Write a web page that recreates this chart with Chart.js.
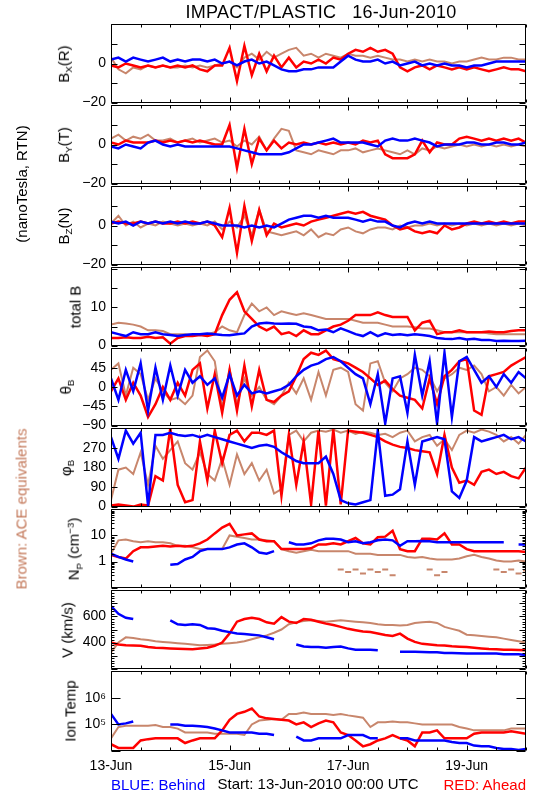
<!DOCTYPE html>
<html><head><meta charset="utf-8">
<script src="https://cdn.jsdelivr.net/npm/chart.js@4.4.1/dist/chart.umd.min.js"></script>
<style>
html,body{margin:0;padding:0;background:#fff}
body{width:550px;height:800px;position:relative;overflow:hidden;font-family:"Liberation Sans",Arial,sans-serif;color:#000}
canvas{position:absolute;left:0}
.t{position:absolute;white-space:nowrap;line-height:1;transform:translate(-50%,-50%)}
.r{transform:translate(-50%,-50%) rotate(-90deg)}
sub{font-size:65%;vertical-align:-0.35em}
sup{font-size:65%;vertical-align:0.55em}
</style></head><body>
<script>
// ---------- time grid (hours since 13-Jun-2010 00:00 UTC) ----------
const hours = [0,3,6,9,12,15,18,21,24,27,30,33,36,39,42,45,48,51,54,57,60,63,66,69,72,75,78,81,84,87,90,93,96,99,102,105,108,111,114,117,120,123,126,129,132,135,138,141,144,147,150,153,156,159,162,165,168];
const dateTicks = [0,48,96,144];
const dateLabels = ['13-Jun','15-Jun','17-Jun','19-Jun'];

// ---------- Bx(R) ----------
const bxBehind = [2,3,1,3,2,1,2,3,1,2, 1,2,2,1,2,0,1,-1,1,2, 0,1,-1,-3,-4,-4,-3,-3,-2,-2, -2,1,4,2,1,1,2,0,1,-1, 0,1,-1,0,-1,0,-1,-1,-2,-1, -1,0,1,1,1,1,1];
const bxAhead  = [-1,-2,0,-1,-2,-1,-2,-1,-2,-1, -2,-1,-3,-4,-1,-1,8,-9,9,-6, 5,-4,4,-2,3,-2,1,0,2,0, 3,2,5,7,6,8,6,7,5,-2, -4,-2,-1,-3,-1,-2,-3,-2,-3,-2, -3,-4,-3,-2,-3,-3,-4];
const bxAce    = [3,-3,-5,-2,-3,-1,-2,-1,-2,-2, -1,-2,-1,-2,-1,0,1,-2,3,5, 2,6,3,5,7,8,4,5,3,5, 4,3,5,4,4,3,4,3,2,2, 1,2,1,2,1,1,0,1,1,2, 3,2,2,3,3,2,2];
// ---------- By(T) ----------
const byBehind = [-1,-2,0,-1,-2,1,2,0,-1,0, -1,-1,-1,-1,-1,-1,-1,-2,-3,-4, -5,-5,-5,-5,-4,-2,0,0,1,2, 3,1,1,1,1,0,-1,2,3,2, 2,3,2,1,-1,0,0,0,1,1, 0,0,1,1,0,0,1];
const byAhead  = [1,0,2,1,1,1,2,1,2,1, 2,1,2,1,0,0,10,-12,8,-10, 3,-3,2,-2,1,0,1,0,1,0, 1,0,1,0,2,1,2,-5,-7,-7, -7,-5,2,-4,1,0,0,3,4,3, 2,3,2,3,2,3,1];
const byAce    = [3,5,2,4,3,5,2,2,3,1, 2,3,1,2,3,1,2,-1,2,0, 4,-3,3,8,7,-3,-4,-5,-3,-4, -5,-3,-3,-2,-4,-3,-2,-3,-4,-5, -3,-5,-2,-3,-1,-2,-1,0,-1,0, -1,0,-1,0,-1,0,-1];
// ---------- Bz(N) ----------
const bzBehind = [2,1,2,0,2,1,2,1,2,1, 2,1,1,2,1,0,0,0,-1,0, -1,0,-1,1,3,4,5,5,4,5, 4,4,4,3,2,3,2,2,0,-1, 1,2,1,2,1,1,1,1,1,1, 1,1,1,1,1,1,1];
const bzAhead  = [1,2,1,1,2,1,2,1,1,2, 1,2,1,2,0,-6,9,-14,10,-8, 8,-5,1,-1,0,1,0,2,3,4, 5,6,7,6,7,5,4,3,0,-2, -1,-3,-4,-3,-4,0,-2,-1,1,2, 1,2,1,2,1,2,2];
const bzAce    = [1,5,0,2,-1,1,0,2,1,0, 1,0,1,0,2,-2,2,-1,5,-5, 8,-3,-4,-5,-4,-3,-5,-2,-6,-4, -5,-2,-1,-3,-4,-2,-1,-1,-2,0, -1,0,0,1,0,1,0,1,0,1, 0,1,0,1,0,1,0];
// ---------- total B ----------
const btBehind = [3.5,3,2.5,3.5,3,3,3.5,3,2.8,2.5, 2.8,3,3,3.2,3,2.8,2.7,3,3.2,5, 5.8,6,5.8,5.7,5.8,5.7,5,4.8,4,4.2, 3.5,4.5,3.8,3,2.5,3.5,2.5,3.2,2.8,3, 2.7,3,2.8,2.5,2,1.8,1.7,2,1.6,1.8, 1.5,1.5,1.2,1.3,1.2,1.2,1.3];
const btAhead  = [2,2,2.2,2,2,2.3,2,2.2,0.5,2, 2.5,2.5,2.8,2.5,3,8,12,14,9,7, 5,4,5,3,3.5,2.5,4,3,3,4, 5,5.5,6.5,8,8,8,8.7,8,7.5,7.5, 7.5,4,6,6.5,3,3.5,3.5,4,3.5,3.5, 3.5,3.7,3.5,3.5,3.8,4,4];
const btAce    = [5.5,6,5.8,5.5,5,4,4,3.8,3,3, 3,2.8,3,3,3.5,5,4,3.5,8,11, 9,10,8,9,8.5,8,8.5,8,7.5,7, 7,7,7,6.5,6,6,6,5.5,5,5, 5,4.8,4.5,4.5,4,3.5,3.5,3.5,3.5,3.5, 3.5,3.2,3,3,3,3,3];
// ---------- theta_B ----------
const thBehind = [20,-30,40,-10,55,-55,45,-30,50,-20, 40,10,25,5,20,-25,30,-20,5,-15, -10,-15,-10,-5,5,25,40,50,55,65, 70,60,45,30,20,-40,30,-85,20,25, -60,75,-20,60,-85,80,-70,60,70,40, 10,25,0,30,10,35,20];
const thAhead  = [-10,20,-30,10,-20,-70,-40,0,-30,10, -20,40,55,-50,30,-60,40,-55,50,-45, 40,-30,-35,-20,-10,25,65,80,75,85, 65,60,55,45,35,20,5,15,-5,-20, -25,-30,-50,20,-40,25,40,60,65,-55, -65,25,30,35,50,60,70];
const thAce    = [40,55,-20,45,30,-30,20,-10,-30,-25, -40,-20,70,85,60,-50,40,-40,20,-20, 0,-30,-40,-20,10,-15,20,-30,35,-20, 40,45,35,-40,-55,55,60,10,-10,20, 30,45,40,25,-10,20,30,45,40,50, 30,-10,0,-20,5,-15,0];
// ---------- phi_B ----------
const phBehind = [320,220,350,290,340,5,330,330,340,330, 325,330,320,330,320,310,300,290,280,270, 280,285,275,250,230,210,200,200,200,230, 150,30,15,10,20,30,350,50,55,80, 300,100,300,310,320,310,70,40,120,320, 300,310,320,330,310,320,300];
const phAhead  = [5,10,5,0,10,5,140,120,360,100, 20,30,300,120,350,200,330,350,300,340, 340,330,350,50,330,100,300,10,350,5, 355,10,350,345,340,330,320,300,285,275, 270,260,255,250,150,330,180,110,120,100, 160,170,150,160,140,130,180];
const phAce    = [30,170,180,150,250,100,280,220,260,300, 200,170,250,150,120,220,100,240,150,200, 120,170,60,80,330,350,300,340,350,345, 355,340,350,335,345,340,330,335,320,340, 350,300,320,330,280,310,260,330,350,340, 355,345,330,300,320,290,330];
// ---------- Np (cm^-3) ----------
const npBehind = [2,1.5,1.2,1,null,null,null,null,0.75,0.8, 1.2,1.5,2.5,3,3,3,3.5,4.5,5,3.5, 2.2,2,2.5,null,5.5,4.5,4.5,5,6.5,7.5, 7.5,7,5.5,6,5,5.5,6.5,7,6.5,4, 6,6,6.2,6,5.5,5.5,5.5,5.5,5.5,5.5, 5.5,5.5,5.5,5.5,null,4.5,4.5];
const npAhead  = [1.8,1.5,1.3,2.5,3.5,3.5,3.8,4,3.8,4, 3.8,4,5,7,12,20,28,10,11,12, 7,6,6,3,3,3,3,3.2,4.5,4.5, 5,4.5,6,8,5,4.5,8.5,9,15,3, 2.5,2.5,7.5,7.5,7,12,4.5,4.5,3,2.5, 2.5,2.5,2.5,2.5,2.5,2.5,2.3];
const npAce    = [2,6.5,7,6,5.5,6,5.5,5.5,5,4, 4,3.5,3,3,3,3,10,9,8,7, 7,6.5,6,3,2.5,2.2,2.5,2.8,2.5,2.5, 2.5,2.5,2.5,2,2,2,1.8,1.8,1.8,1.8, 1.5,1.4,1.5,1.3,1.2,1.2,1.2,1.3,1.6,1.8, 1.5,1.3,1.1,1,1,1.1,1];
const npAceLow = [null,null,null,null,null,null,null,null,null,null, null,null,null,null,null,null,null,null,null,null, null,null,null,null,null,null,null,null,null,null, null,0.5,0.4,0.5,0.35,0.5,0.4,0.5,0.3,null, null,null,null,0.5,0.3,0.4,null,null,null,null, null,null,0.5,0.4,0.5,0.35,0.45];
// ---------- V (km/s) ----------
const vBehind = [680,620,590,580,null,null,null,null,570,540, 535,540,535,510,505,490,480,470,465,460, 455,440,425,null,null,385,370,365,365,360, 365,370,355,345,345,345,340,null,null,330, 330,330,328,325,325,320,320,318,315,315, 315,315,315,310,310,310,305];
const vAhead  = [400,385,380,378,375,365,360,358,355,352, 350,348,355,360,375,400,470,560,580,590, 580,555,545,595,560,550,580,575,560,545, 535,520,505,495,485,480,470,458,450,468, 430,405,390,385,380,378,372,368,365,360, 355,350,348,345,345,342,340];
const vAce    = [325,400,440,435,425,420,410,405,400,395, 390,385,380,382,385,390,395,400,410,425, 440,455,475,500,540,555,565,570,565,560, 565,570,565,560,555,550,540,535,535,530, 535,550,555,560,550,520,505,490,460,455, 450,445,440,430,420,410,400];
// ---------- Ion Temp (K) ----------
const tBehind = [2.5e5,1e5,1.1e5,1.3e5,null,null,null,null,1e5,1e5, 9e4,9e4,8.5e4,8e4,7e4,6e4,5e4,5e4,5e4,5e4, 4.5e4,4.5e4,4e4,null,null,3.5e4,2.5e4,2.5e4,3e4,3e4, 3e4,3e4,4e4,4e4,4e4,3e4,3e4,null,null,3e4, 3e4,2.5e4,2.5e4,2.5e4,2.5e4,2.5e4,2.2e4,2e4,2e4,1.6e4, 1.5e4,1.5e4,1.3e4,1.2e4,1.2e4,1.1e4,1.2e4];
const tAhead  = [1.8e4,1.3e4,1.3e4,1.3e4,2.5e4,2.8e4,3e4,3e4,3e4,3e4, 2e4,2.5e4,3e4,3e4,3e4,6e4,1.5e5,2.5e5,3e5,4e5, 2e5,1.7e5,1.6e5,1.5e5,1.4e5,1e5,1.2e5,8e4,1.1e5,1.4e5, 1.2e5,5e4,4e4,2.5e4,1.5e4,1.8e4,2.5e4,3e4,4e4,3e4, 2.5e4,1.5e4,5e4,5e4,6e4,3e4,3e4,3e4,3e4,4.5e4, 5e4,5e4,5e4,5e4,5.5e4,5e4,4.5e4];
const tAce    = [3e4,8e4,9e4,9e4,9e4,9e4,9.5e4,8e4,8e4,7e4, 5e4,5e4,5e4,5e4,4.5e4,4.5e4,4.5e4,4.5e4,4e4,1e5, 1.4e5,1.5e5,1.6e5,1.5e5,2.5e5,2.5e5,2.8e5,2.5e5,2.5e5,2.5e5, 2.3e5,2.5e5,2.2e5,2e5,1.8e5,8e4,1.2e5,1.2e5,1.3e5,1.2e5, 1.2e5,1.1e5,1e5,1e5,1e5,1e5,1e5,8e4,7e4,6e4, 6e4,6e4,6e4,6e4,7e4,7e4,7e4];

// ---------- axis ticks & labels ----------
const bTicks = [-20,-10,0,10,20];       const bTickLabels = ['\u221220','','0','',''];
const totTicks = [0,5,10,15,20];        const totTickLabels = ['0','','10','',''];
const thTicks = [-90,-45,0,45,90];      const thTickLabels = ['\u221290','\u221245','0','45',''];
const phTicks = [0,90,180,270,360];     const phTickLabels = ['0','90','180','270',''];
const npTicks = [0.1,1,10,100];         const npTickLabels = ['','1','10',''];
const vTicks = [200,300,400,500,600,700,800]; const vTickLabels = ['','','400','','600','',''];
const tTicks = [1e4,1e5,1e6,1e7];       const tTickLabels = ['','10\u2075','10\u2076',''];

// ---------- styles ----------
const BLUE = '#0000ff', RED = '#ff0000', BROWN = 'rgb(200,134,108)';
const FONT = 'Liberation Sans';

function logMinor(lo, hi){ const m=[]; for(let d=lo; d<hi*0.999; d*=10){ for(let k=2;k<10;k++) m.push(d*k); } return m; }
function linMinor(lo, hi, step){ const m=[]; for(let v=lo; v<=hi; v+=step) m.push(v); return m; }

const panels = [
  {s:[bxBehind,bxAhead,bxAce], min:-20,max:20, ticks:bTicks, labels:bTickLabels, minor:[], title:'B<sub>X</sub>(R)', tx:65},
  {s:[byBehind,byAhead,byAce], min:-20,max:20, ticks:bTicks, labels:bTickLabels, minor:[], title:'B<sub>Y</sub>(T)', tx:65},
  {s:[bzBehind,bzAhead,bzAce], min:-20,max:20, ticks:bTicks, labels:bTickLabels, minor:[], title:'B<sub>Z</sub>(N)', tx:65},
  {s:[btBehind,btAhead,btAce], min:0,max:20.5, ticks:totTicks, labels:totTickLabels, minor:[], title:'total B', tx:75},
  {s:[thBehind,thAhead,thAce], min:-90,max:90, ticks:thTicks, labels:thTickLabels, minor:[], title:'&theta;<sub>B</sub>', tx:67},
  {s:[phBehind,phAhead,phAce], min:0,max:360, ticks:phTicks, labels:phTickLabels, minor:[], title:'&phi;<sub>B</sub>', tx:67},
  {s:[npBehind,npAhead,npAce], low:npAceLow, log:true, min:0.1,max:100, ticks:npTicks, labels:npTickLabels, minor:logMinor(0.1,100), title:'N<sub>P</sub> (cm<sup>&minus;3</sup>)', tx:75},
  {s:[vBehind,vAhead,vAce], min:200,max:800, ticks:vTicks, labels:vTickLabels, minor:linMinor(200,800,20), title:'V (km/s)', tx:67},
  {s:[tBehind,tAhead,tAce], log:true, min:1e4,max:1e7, ticks:tTicks, labels:tTickLabels, minor:[], title:'Ion Temp', tx:70, ylen:9}
];

function makeFrame(p){
  return {
    id:'frame',
    afterDraw(chart){
      const ctx = chart.ctx, a = chart.chartArea, x = chart.scales.x, y = chart.scales.y;
      const L = Math.round(a.left)+0.5, R = Math.round(a.right)-0.5, T = Math.round(a.top)+0.5, B = Math.round(a.bottom)-0.5;
      ctx.save(); ctx.strokeStyle='#000'; ctx.lineWidth=1; ctx.beginPath();
      ctx.rect(L, T, R-L, B-T);
      for(let h=0; h<=168; h+=12){
        const px = Math.round(x.getPixelForValue(h))+0.5; const len = (h%48===0)?5:3;
        ctx.moveTo(px,T); ctx.lineTo(px,T+len); ctx.moveTo(px,B); ctx.lineTo(px,B-len);
      }
      const yl = p.ylen || 6;
      p.ticks.forEach(v=>{ const py=Math.round(y.getPixelForValue(v))+0.5; ctx.moveTo(L,py); ctx.lineTo(L+yl,py); ctx.moveTo(R,py); ctx.lineTo(R-yl,py); });
      p.minor.forEach(v=>{ const py=Math.round(y.getPixelForValue(v))+0.5; ctx.moveTo(L,py); ctx.lineTo(L+3,py); ctx.moveTo(R,py); ctx.lineTo(R-3,py); });
      ctx.stroke(); ctx.restore();
    }
  };
}

function ds(arr, color, w){
  return {data: hours.map((h,i)=>({x:h, y:arr[i]})), borderColor:color, backgroundColor:color, borderWidth:w, pointRadius:0, spanGaps:false, tension:0, clip:0};
}

const N = panels.length, TOP0 = 23, BOT = 751, XAX = 25;
panels.forEach((p, i)=>{
  const top = Math.round(TOP0 + i*(BOT-TOP0)/N), bot = Math.round(TOP0 + (i+1)*(BOT-TOP0)/N);
  const last = i === N-1;
  const ctop = top - 12;
  const h = last ? 800 - ctop : (bot - top) + 24;
  const cv = document.createElement('canvas');
  cv.width = 550; cv.height = h; cv.style.top = ctop + 'px'; cv.style.width='550px'; cv.style.height=h+'px';
  document.body.appendChild(cv);
  const sets = [ds(p.s[0], BLUE, 2.5), ds(p.s[1], RED, 2.5), ds(p.s[2], BROWN, 2)];
  if (p.low) { const d = ds(p.low, BROWN, 2); d.showLine=false; d.pointStyle='line'; d.pointRadius=3; sets.push(d); }
  new Chart(cv, {
    type:'line',
    data:{datasets:sets},
    options:{
      responsive:false, animation:false, devicePixelRatio:1, events:[],
      layout:{padding:{left:0, right:24, top:12, bottom: last ? (800 - bot - XAX) : 12}},
      plugins:{legend:{display:false}, tooltip:{enabled:false}},
      scales:{
        x:{type:'linear', min:0, max:168, display:last, position:'bottom',
           afterFit(s){ if (last) s.height = XAX; },
           afterBuildTicks(s){ s.ticks = dateTicks.map(v=>({value:v})); },
           grid:{display:false, drawTicks:false}, border:{display:false},
           ticks:{autoSkip:false, maxRotation:0, padding:7, color:'#000', font:{family:FONT, size:14},
                  callback:(v,idx)=>dateLabels[idx]}},
        y:{type: p.log ? 'logarithmic' : 'linear', min:p.min, max:p.max,
           afterFit(s){ s.width = 111; },
           afterBuildTicks(s){ s.ticks = p.ticks.map(v=>({value:v})); },
           grid:{display:false, drawTicks:false}, border:{display:false},
           ticks:{autoSkip:false, padding:5, color:'#000', font:{family:FONT, size:14},
                  callback:(v,idx)=>p.labels[idx]}}
      }
    },
    plugins:[makeFrame(p)]
  });
  const lab = document.createElement('div');
  lab.className = 't r'; lab.style.fontSize='15px';
  lab.style.left = p.tx + 'px'; lab.style.top = ((top+bot)/2) + 'px';
  lab.innerHTML = p.title;
  document.body.appendChild(lab);
});
</script>
<div class="t" style="left:321px;top:12px;font-size:18px;letter-spacing:0.3px">IMPACT/PLASTIC&nbsp;&nbsp;&nbsp;16-Jun-2010</div>
<div class="t r" style="left:21px;top:184px;font-size:15px">(nanoTesla, RTN)</div>
<div class="t r" style="left:21px;top:509px;font-size:15px;color:rgb(196,122,92)">Brown: ACE equivalents</div>
<div class="t" style="left:111px;top:784px;font-size:15px;color:#0000ff;transform:translate(0,-50%)">BLUE: Behind</div>
<div class="t" style="left:318px;top:783px;font-size:15px">Start: 13-Jun-2010 00:00 UTC</div>
<div class="t" style="left:526px;top:784px;font-size:15px;color:#ff0000;transform:translate(-100%,-50%)">RED: Ahead</div>
</body></html>
